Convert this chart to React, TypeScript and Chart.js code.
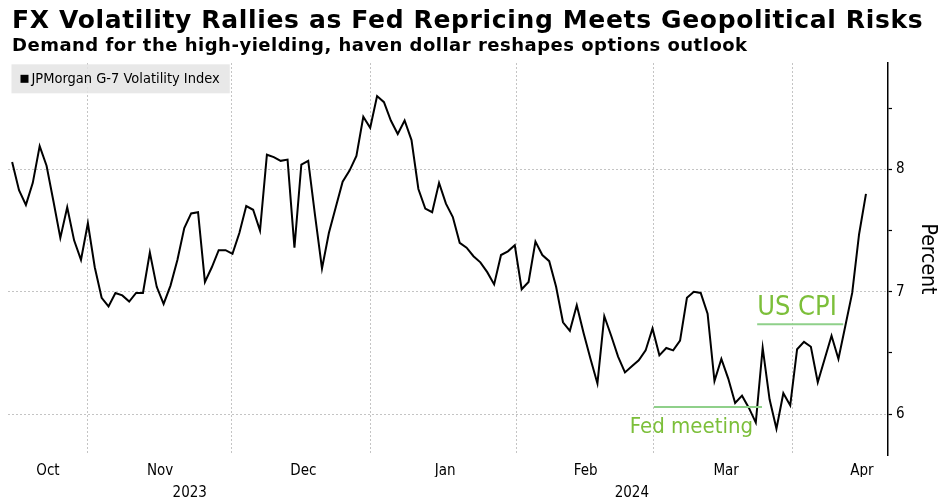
import React, { useEffect, useRef } from 'react';
import { Chart, registerables } from 'chart.js';

Chart.register(...registerables);

// JPMorgan G-7 Volatility Index, one value per trading day (mid-Oct 2023 to early Apr 2024)
const values = [
  8.06, 7.83, 7.71, 7.89, 8.19, 8.03, 7.74, 7.44, 7.69, 7.42,
  7.26, 7.56, 7.20, 6.95, 6.88, 6.99, 6.97, 6.92, 6.99, 6.99,
  7.32, 7.04, 6.90, 7.05, 7.26, 7.52, 7.64, 7.65, 7.08, 7.20,
  7.34, 7.34, 7.31, 7.48, 7.70, 7.67, 7.50, 8.12, 8.10, 8.07,
  8.08, 7.36, 8.04, 8.07, 7.62, 7.19, 7.48, 7.69, 7.90, 7.99,
  8.11, 8.43, 8.34, 8.60, 8.55, 8.40, 8.29, 8.40, 8.24, 7.84,
  7.68, 7.65, 7.89, 7.72, 7.61, 7.40, 7.36, 7.29, 7.24, 7.16,
  7.06, 7.30, 7.33, 7.38, 7.02, 7.08, 7.41, 7.30, 7.25, 7.04,
  6.75, 6.68, 6.89, 6.66, 6.45, 6.25, 6.80, 6.64, 6.47, 6.34,
  6.39, 6.44, 6.52, 6.70, 6.48, 6.54, 6.52, 6.60, 6.95, 7.00,
  6.99, 6.82, 6.27, 6.45, 6.29, 6.09, 6.15, 6.05, 5.93, 6.54,
  6.12, 5.88, 6.17, 6.07, 6.53, 6.59, 6.55, 6.26, 6.45, 6.64,
  6.45, 6.72, 6.99, 7.47, 7.80,
];

// x axis, in trading-day index units
const monthNames = ['Oct', 'Nov', 'Dec', 'Jan', 'Feb', 'Mar', 'Apr'];
const monthCenters = [5.2, 21.5, 42.3, 62.9, 83.3, 103.7, 123.4];
const monthBreaks = [10.9, 31.9, 52.1, 73.2, 93.2, 113.3];
const yearNames = ['2023', '2024'];
const yearCenters = [25.8, 90.0];
const yTicks = [6, 6.5, 7, 7.5, 8, 8.5];

// annotations: text, line start/end (day index), line level, text anchor
const noteLabels = ['US CPI', 'Fed meeting'];
const noteFrom = [108.2, 93.2];
const noteTo = [120.7, 108.9];
const noteLevel = [6.733, 6.058];
const noteTextX = [108.2, 107.6];
const noteTextY = [6.81, 5.846];

const TITLE = 'FX Volatility Rallies as Fed Repricing Meets Geopolitical Risks';
const SUBTITLE = 'Demand for the high-yielding, haven dollar reshapes options outlook';

const X_MIN = -0.6;
const X_MAX = 127.2;
const FONT = '"DejaVu Sans Condensed", "DejaVu Sans", sans-serif';
const noteStyle = [
  { size: 27, align: 'left' as CanvasTextAlign },
  { size: 22, align: 'right' as CanvasTextAlign },
];

const legendBox = {
  id: 'legendBox',
  beforeDatasetsDraw(chart: Chart) {
    const { ctx, chartArea } = chart;
    const label = chart.data.datasets[0].label as string;
    ctx.save();
    ctx.font = `14.5px ${FONT}`;
    const tw = ctx.measureText(label).width;
    const x = chartArea.left + 3.5;
    const y = chartArea.top + 1.3;
    const h = 29;
    ctx.fillStyle = 'rgba(228,228,228,0.85)';
    ctx.fillRect(x, y, tw + 30, h);
    ctx.fillStyle = '#000';
    ctx.fillRect(x + 9, y + h / 2 - 4, 8, 8);
    ctx.textBaseline = 'middle';
    ctx.fillText(label, x + 20, y + h / 2);
    ctx.restore();
  },
};

const notes = {
  id: 'notes',
  afterDatasetsDraw(chart: Chart) {
    const { ctx } = chart;
    const xs = chart.scales.x;
    const ys = chart.scales.y;
    ctx.save();
    noteLabels.forEach((label, i) => {
      ctx.strokeStyle = '#8fd08a';
      ctx.lineWidth = 2;
      ctx.beginPath();
      ctx.moveTo(xs.getPixelForValue(noteFrom[i]), ys.getPixelForValue(noteLevel[i]));
      ctx.lineTo(xs.getPixelForValue(noteTo[i]), ys.getPixelForValue(noteLevel[i]));
      ctx.stroke();
      ctx.fillStyle = '#7cbf3a';
      ctx.font = `${noteStyle[i].size}px ${FONT}`;
      ctx.textAlign = noteStyle[i].align;
      ctx.textBaseline = 'alphabetic';
      ctx.fillText(label, xs.getPixelForValue(noteTextX[i]), ys.getPixelForValue(noteTextY[i]));
    });
    ctx.restore();
  },
};

export default function App() {
  const canvasRef = useRef<HTMLCanvasElement>(null);
  const chartRef = useRef<Chart | null>(null);

  useEffect(() => {
    if (!canvasRef.current) return;
    const ctx = canvasRef.current.getContext('2d');
    if (!ctx) return;
    if (chartRef.current) chartRef.current.destroy();

    const labelAxis = (names: string[], centers: number[], weight: number, padding: number) => ({
      type: 'linear' as const,
      axis: 'x' as const,
      position: 'bottom' as const,
      min: X_MIN,
      max: X_MAX,
      weight,
      afterBuildTicks: (s: any) => { s.ticks = centers.map((value) => ({ value })); },
      afterFit: (s: any) => { s.height = 22; },
      grid: { display: false, drawTicks: false },
      border: { display: false },
      ticks: {
        autoSkip: false,
        maxRotation: 0,
        padding,
        color: '#000',
        font: { family: FONT, size: 15 },
        callback: (_v: any, i: number) => names[i],
      },
    });

    chartRef.current = new Chart(ctx, {
      type: 'line',
      data: {
        datasets: [{
          label: 'JPMorgan G-7 Volatility Index',
          data: values.map((y, i) => ({ x: i, y })),
          borderColor: '#000',
          borderWidth: 2,
          pointRadius: 0,
          tension: 0,
          xAxisID: 'x',
          yAxisID: 'y',
        }],
      },
      options: {
        animation: false,
        responsive: true,
        maintainAspectRatio: false,
        layout: { padding: { left: 8, top: 63, right: 0, bottom: 0 } },
        scales: {
          x: {
            type: 'linear',
            position: 'bottom',
            min: X_MIN,
            max: X_MAX,
            weight: 0,
            afterBuildTicks: (s: any) => { s.ticks = monthBreaks.map((value) => ({ value })); },
            afterFit: (s: any) => { s.height = 0; },
            ticks: { display: false },
            grid: { color: '#c4c4c4', lineWidth: 1, drawTicks: false },
            border: { display: false, dash: [2, 2] },
          },
          xm: labelAxis(monthNames, monthCenters, 1, 7),
          xy: labelAxis(yearNames, yearCenters, 2, 7),
          y: {
            position: 'right',
            min: 5.665,
            max: 8.87,
            afterBuildTicks: (s: any) => { s.ticks = yTicks.map((value) => ({ value })); },
            afterFit: (s: any) => { s.width = 59; },
            ticks: {
              color: '#000',
              padding: 4,
              font: { family: FONT, size: 15 },
              callback: (v: any) => (Number.isInteger(v) ? String(v) : ''),
            },
            grid: {
              color: (c: any) => (Number.isInteger(c.tick?.value) ? '#c4c4c4' : 'rgba(0,0,0,0)'),
              lineWidth: 1,
              tickColor: '#000',
              tickLength: 4,
              tickWidth: 1.2,
            },
            border: { display: true, color: '#000', width: 1.5, dash: [2, 2] },
            title: {
              display: true,
              text: 'Percent',
              color: '#000',
              font: { family: FONT, size: 21 },
              padding: { top: 7, bottom: 0 },
            },
          },
        },
        plugins: {
          legend: { display: false },
          tooltip: { enabled: false },
        },
      },
      plugins: [legendBox, notes],
    });

    return () => { if (chartRef.current) chartRef.current.destroy(); };
  }, []);

  const heading = { position: 'absolute' as const, left: 12, margin: 0, whiteSpace: 'nowrap' as const,
    fontFamily: '"DejaVu Sans", sans-serif', fontWeight: 'bold' as const, color: '#000' };

  return (
    <div style={{ position: 'absolute', left: 0, top: 0, width: 947, height: 499, background: '#fff' }}>
      <canvas ref={canvasRef} />
      <div style={{ ...heading, top: 7, fontSize: 25, lineHeight: '25px', letterSpacing: '0.65px' }}>{TITLE}</div>
      <div style={{ ...heading, top: 36, fontSize: 18, lineHeight: '18px', letterSpacing: '0.5px' }}>{SUBTITLE}</div>
    </div>
  );
}
